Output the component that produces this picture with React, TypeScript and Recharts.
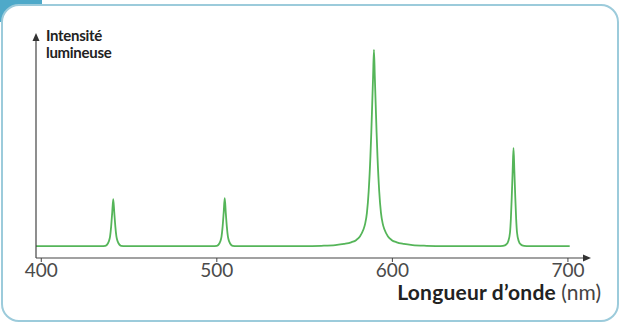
import { LineChart, Line, XAxis, YAxis } from "recharts";

// Emission spectrum: [wavelength (nm), relative intensity]
const BASELINE_START = [
  [397, 0],
  [420, 0],
];

const PEAK_441 = [
  [434, 0], [436.5, 0.2], [437.5, 0.8], [438.5, 2.5], [439.2, 5], [439.8, 10], [440.4, 17],
  [441, 24], [441.6, 17], [442.2, 10], [442.8, 5], [443.5, 2.5], [444.5, 0.8], [445.5, 0.2], [448, 0],
];

const PEAK_504 = [
  [470, 0], [497.5, 0], [500, 0.2], [501, 0.8], [502, 2.5], [502.7, 5], [503.3, 10], [503.9, 17],
  [504.5, 24.5], [505.1, 17], [505.7, 10], [506.3, 5], [507, 2.5], [508, 0.8], [509, 0.2], [511.5, 0],
];

const PEAK_589 = [
  [530, 0], [549.5, 0], [559.5, 0.2], [567.5, 0.6], [572.5, 1.2], [576.5, 2], [579.5, 3.2], [581.5, 5],
  [583.5, 8.5], [584.5, 11.5], [585.5, 17], [586.5, 28], [587.5, 46], [588, 58], [588.5, 72], [589, 86],
  [589.5, 100], [590, 86], [590.5, 72], [591, 58], [591.5, 46], [592.5, 28], [593.5, 17], [594.5, 11.5],
  [595.5, 8.5], [597.5, 5], [599.5, 3.2], [602.5, 2], [606.5, 1.2], [611.5, 0.6], [619.5, 0.2], [629.5, 0],
];

const PEAK_669 = [
  [660, 0], [663, 0.2], [665, 1], [666, 2.5], [667, 7], [667.5, 14], [668, 25], [668.5, 38],
  [669, 50], [669.5, 38], [670, 25], [670.5, 14], [671, 7], [672, 2.5], [673, 1], [675, 0.2], [678, 0],
];

const BASELINE_END = [[701, 0]];

const X_TICKS = [400, 500, 600, 700];

const spectrum = [...BASELINE_START, ...PEAK_441, ...PEAK_504, ...PEAK_589, ...PEAK_669, ...BASELINE_END].map(
  ([nm, value]) => ({ nm, value })
);

const FONT = "Lato, 'Open Sans', sans-serif";

const yLabelStyle = {
  position: "absolute" as const,
  left: 46,
  fontSize: 15,
  lineHeight: "15px",
  fontWeight: 700,
  color: "#222",
  letterSpacing: -0.3,
};

export default function App() {
  return (
    <div style={{ position: "fixed", left: 0, top: 0, width: 622, height: 327, background: "#fff", fontFamily: FONT }}>
      {/* teal tab behind the frame corner */}
      <div style={{ position: "absolute", left: 0, top: 0, width: 42, height: 22, background: "#4ea9c9" }} />
      <div
        style={{
          position: "absolute",
          left: 1,
          top: 4,
          width: 614,
          height: 314,
          border: "2px solid #9ccbdb",
          borderRadius: 18,
          background: "#fff",
        }}
      />

      <div style={{ position: "absolute", left: 0, top: 0 }}>
        <LineChart width={622} height={327} data={spectrum} margin={{ top: 38, right: 33, bottom: 39, left: 26 }}>
          <XAxis
            type="number"
            dataKey="nm"
            domain={[397, 712]}
            ticks={X_TICKS}
            allowDataOverflow
            axisLine={{ stroke: "#444", strokeWidth: 1.2 }}
            tickLine={{ stroke: "#444" }}
            tickSize={4}
            tickMargin={2}
            tick={{ fill: "#4a4a4a", fontSize: 19, fontFamily: FONT }}
          />
          <YAxis
            width={10}
            domain={[-6, 106]}
            allowDataOverflow
            tick={false}
            tickLine={false}
            axisLine={{ stroke: "#444", strokeWidth: 1.2 }}
          />
          <Line
            type="monotone"
            dataKey="value"
            stroke="#55b559"
            strokeWidth={1.8}
            dot={false}
            isAnimationActive={false}
          />
        </LineChart>
      </div>

      {/* axis arrowheads */}
      <svg width={622} height={327} style={{ position: "absolute", left: 0, top: 0, pointerEvents: "none" }}>
        <polygon points="36,33 32.5,41 39.5,41" fill="#333" />
        <polygon points="591,258 583,254.5 583,261.5" fill="#333" />
      </svg>

      <div style={{ ...yLabelStyle, top: 28 }}>Intensité</div>
      <div style={{ ...yLabelStyle, top: 45 }}>lumineuse</div>

      <div
        style={{
          position: "absolute",
          right: 21,
          top: 279,
          fontSize: 21,
          color: "#222",
          whiteSpace: "nowrap",
        }}
      >
        <span style={{ fontWeight: 700, letterSpacing: 0.2 }}>Longueur d’onde</span>{" "}
        <span style={{ color: "#444" }}>(nm)</span>
      </div>
    </div>
  );
}
